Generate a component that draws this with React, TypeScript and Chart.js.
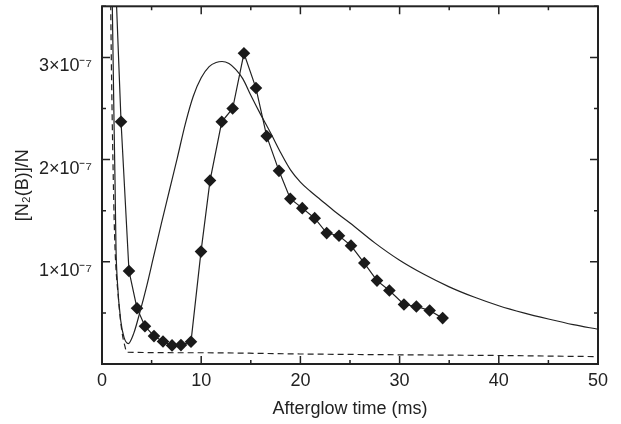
import React, { useEffect, useRef } from 'react';
import { Chart, registerables } from 'chart.js';

Chart.register(...registerables);

// Measured points (time in ms, density in units of 1e-7)
const measuredTime = [1.0, 1.92, 2.72, 3.53, 4.33, 5.24, 6.15, 7.06, 7.96, 8.97, 9.98, 10.89, 12.07, 13.17, 14.31, 15.52, 16.6, 17.84, 18.98, 20.19, 21.44, 22.65, 23.89, 25.1, 26.44, 27.72, 28.97, 30.44, 31.69, 33.03, 34.34];
const measuredDensity = [4.68, 2.37, 0.91, 0.545, 0.37, 0.273, 0.22, 0.182, 0.185, 0.218, 1.1, 1.795, 2.37, 2.5, 3.04, 2.7, 2.23, 1.89, 1.617, 1.525, 1.427, 1.281, 1.255, 1.158, 0.988, 0.816, 0.719, 0.582, 0.563, 0.524, 0.449];

// Model (solid curve)
const modelTime = [0.95, 1.04, 1.31, 1.41, 1.54, 1.88, 2.22, 2.65, 3.2, 3.8, 4.5, 5.2, 6.0, 6.8, 7.6, 8.4, 9.2, 10.0, 10.8, 11.5, 12.1, 12.8, 13.5, 14.2, 15.0, 16.0, 17.0, 18.0, 19.0, 20.0, 21.0, 22.0, 23.5, 25.0, 27.5, 30.0, 32.5, 35.0, 37.5, 40.0, 42.5, 45.0, 47.5, 50.0];
const modelDensity = [4.5, 3.5, 1.8, 1.14, 0.82, 0.43, 0.26, 0.2, 0.3, 0.5, 0.76, 1.05, 1.38, 1.7, 2.02, 2.35, 2.62, 2.8, 2.91, 2.95, 2.96, 2.94, 2.88, 2.79, 2.63, 2.44, 2.26, 2.07, 1.9, 1.78, 1.69, 1.61, 1.49, 1.38, 1.185, 1.015, 0.875, 0.755, 0.655, 0.57, 0.5, 0.44, 0.385, 0.34];

// Model (dashed curve)
const dashedTime = [0.8, 0.88, 1.14, 1.31, 1.64, 1.99, 2.32, 2.5, 10, 20, 30, 40, 50];
const dashedDensity = [4.5, 3.5, 1.8, 1.14, 0.66, 0.33, 0.17, 0.115, 0.11, 0.098, 0.09, 0.083, 0.072];

const UNIT = 1e-7;
const X_MIN = 0;
const X_MAX = 50;
const X_STEP = 5;
const X_LABEL_EVERY = 10;
const Y_MIN = 0;
const Y_MAX = 3.5;
const Y_STEP = 0.5;

const FONT = "'Liberation Sans', Arial, Helvetica, sans-serif";
const INK = '#222';

const toPoints = (xs: number[], ys: number[]) => xs.map((x, i) => ({ x, y: ys[i] * UNIT }));

const framePlugin = {
  id: 'frameTicks',
  afterDatasetsDraw(chart: any) {
    const { ctx, chartArea } = chart;
    const { left, right, top, bottom } = chartArea;
    const xs = chart.scales.x;
    const ys = chart.scales.y;
    ctx.save();
    ctx.strokeStyle = INK;
    ctx.lineWidth = 1.5;
    ctx.beginPath();
    xs.ticks.forEach((t: any) => {
      const px = xs.getPixelForValue(t.value);
      const major = Math.abs(t.value / X_LABEL_EVERY - Math.round(t.value / X_LABEL_EVERY)) < 1e-6;
      const len = major ? 8 : 4;
      ctx.moveTo(px, bottom);
      ctx.lineTo(px, bottom - len);
      ctx.moveTo(px, top);
      ctx.lineTo(px, top + len);
    });
    ys.ticks.forEach((t: any) => {
      const py = ys.getPixelForValue(t.value);
      const k = t.value / UNIT;
      const major = Math.abs(k - Math.round(k)) < 1e-6;
      const len = major ? 8 : 4;
      ctx.moveTo(left, py);
      ctx.lineTo(left + len, py);
      ctx.moveTo(right, py);
      ctx.lineTo(right - len, py);
    });
    ctx.stroke();
    ctx.lineWidth = 2;
    ctx.strokeRect(left, top, right - left, bottom - top);
    ctx.restore();
  },
};

export default function App() {
  const ref = useRef<HTMLCanvasElement | null>(null);

  useEffect(() => {
    if (!ref.current) return;
    const chart = new Chart(ref.current, {
      type: 'line',
      data: {
        datasets: [
          {
            label: 'Model (dashed)',
            data: toPoints(dashedTime, dashedDensity),
            borderColor: INK,
            borderWidth: 1.2,
            borderDash: [6, 4],
            pointRadius: 0,
            pointHoverRadius: 0,
            cubicInterpolationMode: 'monotone',
            fill: false,
          },
          {
            label: 'Model',
            data: toPoints(modelTime, modelDensity),
            borderColor: INK,
            borderWidth: 1.2,
            pointRadius: 0,
            pointHoverRadius: 0,
            cubicInterpolationMode: 'monotone',
            fill: false,
          },
          {
            label: 'Measured',
            data: toPoints(measuredTime, measuredDensity),
            borderColor: INK,
            borderWidth: 1.2,
            tension: 0,
            pointStyle: 'rectRot',
            pointRadius: 6.3,
            pointBackgroundColor: '#1a1a1a',
            pointBorderColor: '#1a1a1a',
            pointBorderWidth: 0,
            fill: false,
          },
        ],
      },
      options: {
        animation: false,
        responsive: false,
        events: [],
        layout: { padding: { left: 0, right: 23, top: 5, bottom: 0 } },
        plugins: {
          legend: { display: false },
          tooltip: { enabled: false },
          title: { display: false },
        },
        scales: {
          x: {
            type: 'linear',
            min: X_MIN,
            max: X_MAX,
            grid: { display: false, drawTicks: false },
            border: { display: false },
            ticks: {
              stepSize: X_STEP,
              autoSkip: false,
              maxRotation: 0,
              padding: 6,
              color: INK,
              font: { family: FONT, size: 18 },
              callback: (v: any) => {
                const n = Number(v);
                return Math.abs(n / X_LABEL_EVERY - Math.round(n / X_LABEL_EVERY)) < 1e-6 ? String(Math.round(n)) : '';
              },
            },
            title: {
              display: true,
              text: 'Afterglow time (ms)',
              color: INK,
              font: { family: FONT, size: 18 },
              padding: { top: 0, bottom: 4 },
            },
            afterFit: (s: any) => {
              s.height = 60;
              s.paddingLeft = 0;
              s.paddingRight = 0;
            },
          },
          y: {
            type: 'linear',
            min: Y_MIN * UNIT,
            max: Y_MAX * UNIT,
            grid: { display: false, drawTicks: false },
            border: { display: false },
            ticks: {
              stepSize: Y_STEP * UNIT,
              autoSkip: false,
              padding: 10,
              labelOffset: 9,
              color: INK,
              font: { family: FONT, size: 18 },
              callback: (v: any) => {
                const k = Number(v) / UNIT;
                const r = Math.round(k);
                if (Math.abs(k - r) > 1e-6 || r === 0) return '';
                return `${r}×10⁻⁷`;
              },
            },
            title: {
              display: true,
              text: '[N₂(B)]/N',
              color: INK,
              font: { family: FONT, size: 18 },
              padding: { top: 12, bottom: 0 },
            },
            afterFit: (s: any) => {
              s.width = 102;
              s.paddingTop = 0;
              s.paddingBottom = 0;
            },
          },
        },
      },
      plugins: [framePlugin],
    } as any);
    return () => chart.destroy();
  }, []);

  return (
    <div style={{ position: 'fixed', left: 0, top: 0, width: 621, height: 424, background: '#fff' }}>
      <canvas ref={ref} width={621} height={424} style={{ display: 'block' }} />
    </div>
  );
}
